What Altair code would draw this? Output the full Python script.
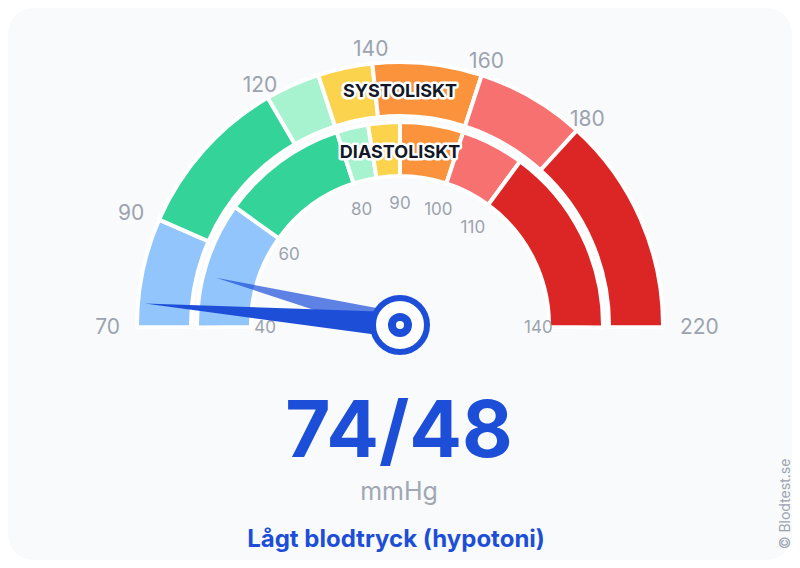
import math
import altair as alt
import pandas as pd

# ---------------- data ----------------
SYS_EDGES = [70, 90, 120, 130, 140, 160, 180, 220]
DIA_EDGES = [40, 60, 80, 85, 90, 100, 110, 140]
ZONES = ["lågt", "normalt", "optimalt högt", "högt normalt", "hypertoni grad 1", "hypertoni grad 2", "hypertoni grad 3"]
ZONE_COLORS = ["#93c5fd", "#34d399", "#a7f3d0", "#fcd34d", "#fb923c", "#f87171", "#dc2626"]
SYS_TICKS = [70, 90, 120, 140, 160, 180, 220]
DIA_TICKS = [40, 60, 80, 90, 100, 110, 140]
SYSTOLIC = 74
DIASTOLIC = 48
UNIT = "mmHg"
CATEGORY = "Lågt blodtryck (hypotoni)"
CREDIT = "© Blodtest.se"

# ---------------- layout ----------------
W, H = 784, 552
CX, CY = 392, 317
BLUE = "#1d4ed8"
GRAY = "#9ca3af"
FONT = "Inter"
HALF = math.pi / 2
EXT = 0.009  # compensates the white separator stroke at the flat ring ends

color_scale = alt.Scale(domain=ZONES, range=ZONE_COLORS)
sys_theta = alt.Scale(domain=[SYS_EDGES[0], SYS_EDGES[-1]], range=[-HALF, HALF])
dia_theta = alt.Scale(domain=[DIA_EDGES[0], DIA_EDGES[-1]], range=[-HALF, HALF])
sys_ring_theta = alt.Scale(domain=[SYS_EDGES[0], SYS_EDGES[-1]], range=[-HALF - EXT, HALF + EXT])
dia_ring_theta = alt.Scale(domain=[DIA_EDGES[0], DIA_EDGES[-1]], range=[-HALF - EXT * 1.4, HALF + EXT * 1.4])

one = pd.DataFrame({"k": [0]})


def ring(edges, scale, r_in, r_out):
    df = pd.DataFrame({"start": edges[:-1], "end": edges[1:], "zone": ZONES})
    return alt.Chart(df).mark_arc(
        innerRadius=r_in, outerRadius=r_out, stroke="white", strokeWidth=4
    ).encode(
        theta=alt.Theta("start:Q", scale=scale, stack=False),
        theta2="end:Q",
        color=alt.Color("zone:N", scale=color_scale, legend=None),
        x=alt.value(CX),
        y=alt.value(CY),
    )


def ticks(values, scale, lo, hi, radius, size):
    df = pd.DataFrame({"v": values})
    q1 = lo + (hi - lo) / 4
    q3 = lo + 3 * (hi - lo) / 4
    base = alt.Chart(df).encode(
        theta=alt.Theta("v:Q", scale=scale, stack=False),
        text=alt.Text("v:Q", format="d"),
        x=alt.value(CX),
        y=alt.value(CY),
    )
    common = dict(radius=radius, fontSize=size, font=FONT, color=GRAY, baseline="middle", dy=3)
    left = base.transform_filter(f"datum.v < {q1}").mark_text(align="right", **common)
    mid = base.transform_filter(f"datum.v >= {q1} && datum.v <= {q3}").mark_text(align="center", **common)
    right = base.transform_filter(f"datum.v > {q3}").mark_text(align="left", **common)
    return [left, mid, right]


bg = alt.Chart(one).mark_rect(cornerRadius=26, color="#f8fafc").encode(
    x=alt.value(0), x2=alt.value(W), y=alt.value(0), y2=alt.value(H)
)

sys_ring = ring(SYS_EDGES, sys_ring_theta, 209, 263)
dia_ring = ring(DIA_EDGES, dia_ring_theta, 149, 203)

sys_labels = ticks(SYS_TICKS, sys_theta, SYS_EDGES[0], SYS_EDGES[-1], 280, 21)
dia_labels = ticks(DIA_TICKS, dia_theta, DIA_EDGES[0], DIA_EDGES[-1], 124, 17)


def ring_title(text, y):
    d = pd.DataFrame({"t": [text]})
    halo = alt.Chart(d).mark_text(
        font=FONT, fontSize=18, fontWeight="bold", color="white",
        stroke="white", strokeWidth=5, strokeJoin="round", align="center", baseline="alphabetic"
    ).encode(text="t:N", x=alt.value(CX), y=alt.value(y))
    fg = alt.Chart(d).mark_text(
        font=FONT, fontSize=18, fontWeight="bold", color="#111827",
        align="center", baseline="alphabetic"
    ).encode(text="t:N", x=alt.value(CX), y=alt.value(y))
    return [halo, fg]


titles = ring_title("SYSTOLISKT", 89) + ring_title("DIASTOLISKT", 150)

# needles: custom triangular symbol pointing left, rotated by the value's angle
dia_needle = alt.Chart(pd.DataFrame({"v": [DIASTOLIC]})).mark_point(
    shape="M -1 0 L 0 -0.065 L 0 0.065 Z", size=380 ** 2, filled=True,
    color=BLUE, opacity=0.7, strokeWidth=0
).encode(
    angle=alt.Angle("v:Q", scale=alt.Scale(domain=[DIA_EDGES[0], DIA_EDGES[-1]], range=[0, 180])),
    x=alt.value(CX), y=alt.value(CY),
)
sys_needle = alt.Chart(pd.DataFrame({"v": [SYSTOLIC]})).mark_point(
    shape="M -1 0 L 0 -0.05 L 0 0.05 Z", size=512 ** 2, filled=True,
    color=BLUE, opacity=1, strokeWidth=0
).encode(
    angle=alt.Angle("v:Q", scale=alt.Scale(domain=[SYS_EDGES[0], SYS_EDGES[-1]], range=[0, 180])),
    x=alt.value(CX), y=alt.value(CY),
)

hub = alt.Chart(one).mark_point(
    shape="circle", size=54 ** 2, filled=True, fill="white", stroke=BLUE, strokeWidth=6, opacity=1
).encode(x=alt.value(CX), y=alt.value(CY))
hub_dot = alt.Chart(one).mark_point(
    shape="circle", size=24 ** 2, filled=True, color=BLUE, opacity=1, strokeWidth=0
).encode(x=alt.value(CX), y=alt.value(CY))
hub_hole = alt.Chart(one).mark_point(
    shape="circle", size=8 ** 2, filled=True, color="white", opacity=1, strokeWidth=0
).encode(x=alt.value(CX), y=alt.value(CY))

reading = alt.Chart(pd.DataFrame({"t": [f"{SYSTOLIC}/{DIASTOLIC}"]})).mark_text(
    font=FONT, fontSize=78, fontWeight="bold", color=BLUE, align="center", baseline="alphabetic"
).encode(text="t:N", x=alt.value(391), y=alt.value(449))
unit = alt.Chart(pd.DataFrame({"t": [UNIT]})).mark_text(
    font=FONT, fontSize=25, color="#a1a7b3", align="center", baseline="alphabetic"
).encode(text="t:N", x=alt.value(391), y=alt.value(492))
category = alt.Chart(pd.DataFrame({"t": [CATEGORY]})).mark_text(
    font=FONT, fontSize=24, fontWeight="bold", color=BLUE, align="center", baseline="alphabetic"
).encode(text="t:N", x=alt.value(388), y=alt.value(539))
credit = alt.Chart(pd.DataFrame({"t": [CREDIT]})).mark_text(
    font=FONT, fontSize=14, color=GRAY, align="center", baseline="middle", angle=270
).encode(text="t:N", x=alt.value(778), y=alt.value(496))

chart = alt.layer(
    bg, sys_ring, dia_ring, *sys_labels, *dia_labels, *titles,
    dia_needle, sys_needle, hub, hub_dot, hub_hole,
    reading, unit, category, credit,
).resolve_scale(
    theta="independent", angle="independent"
).properties(
    width=W, height=H, padding=0, autosize=alt.AutoSizeParams(type="none"), background="white"
).configure_view(strokeWidth=0)

chart.save("out.html", embed_options={"renderer": "svg", "actions": False})
